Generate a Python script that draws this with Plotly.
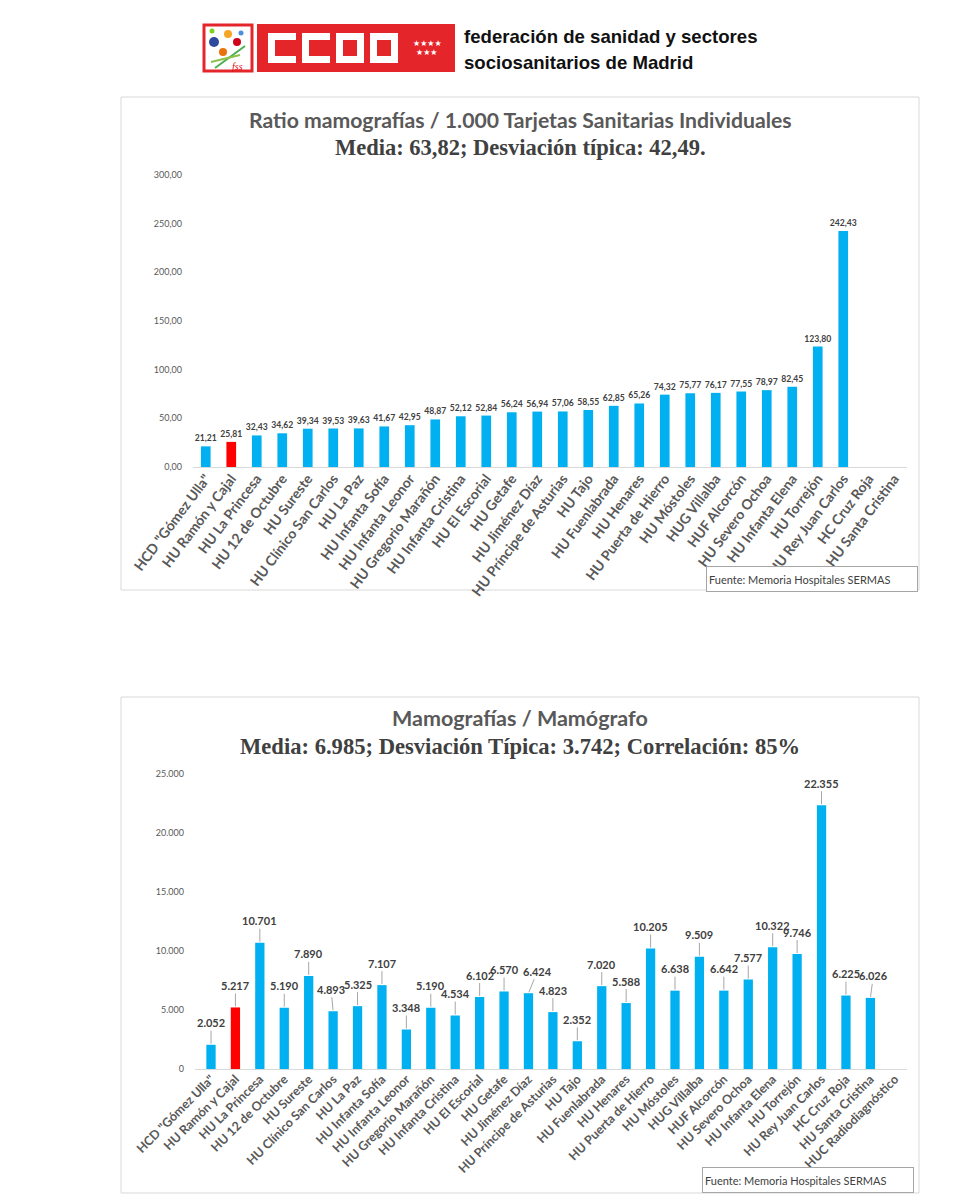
import plotly.graph_objects as go

# ---------------- DATA ----------------
hosp_top = ['HCD "Gómez Ulla"', 'HU Ramón y Cajal', 'HU La Princesa', 'HU 12 de Octubre', 'HU Sureste',
            'HU Clínico San Carlos', 'HU La Paz', 'HU Infanta Sofía', 'HU Infanta Leonor',
            'HU Gregorio Marañón', 'HU Infanta Cristina', 'HU El Escorial', 'HU Getafe',
            'HU Jiménez Díaz', 'HU Príncipe de Asturias', 'HU Tajo', 'HU Fuenlabrada', 'HU Henares',
            'HU Puerta de Hierro', 'HU Móstoles', 'HUG Villalba', 'HUF Alcorcón', 'HU Severo Ochoa',
            'HU Infanta Elena', 'HU Torrejón', 'HU Rey Juan Carlos', 'HC Cruz Roja', 'HU Santa Cristina']
ratio_tsi = [21.21, 25.81, 32.43, 34.62, 39.34, 39.53, 39.63, 41.67, 42.95, 48.87, 52.12, 52.84, 56.24,
             56.94, 57.06, 58.55, 62.85, 65.26, 74.32, 75.77, 76.17, 77.55, 78.97, 82.45, 123.80, 242.43,
             None, None]

hosp_bottom = hosp_top + ['HUC Radiodiagnóstico']
mamo_per_mamografo = [2052, 5217, 10701, 5190, 7890, 4893, 5325, 7107, 3348, 5190, 4534, 6102, 6570,
                      6424, 4823, 2352, 7020, 5588, 10205, 6638, 9509, 6642, 7577, 10322, 9746, 22355,
                      6225, 6026, None]

highlight = 'HU Ramón y Cajal'
top_ticks = [0, 50, 100, 150, 200, 250, 300]
bottom_ticks = [0, 5000, 10000, 15000, 20000, 25000]

title_top_1 = 'Ratio mamografías / 1.000 Tarjetas Sanitarias Individuales'
title_top_2 = 'Media: 63,82; Desviación típica: 42,49.'
title_bot_1 = 'Mamografías / Mamógrafo'
title_bot_2 = 'Media: 6.985; Desviación Típica: 3.742; Correlación: 85%'
source_text = 'Fuente: Memoria Hospitales SERMAS'

# ---------------- STYLE ----------------
W, H = 960, 1200
def X(px):
    return px / W
def Y(py):
    return 1 - py / H

BLUE = '#00B0F0'
RED = '#FF0000'
SANS = 'Lato, Open Sans, Arial, sans-serif'
SERIF = 'Liberation Serif, Times New Roman, serif'
GRAY = '#595959'
DARK = '#404040'

# callout label nudges (pixels) for crowded labels, as in the reference
label_dx = {'HU Jiménez Díaz': 9, 'HU Santa Cristina': 3, 'HU Clínico San Carlos': -2}

fig = go.Figure()

fig.add_trace(go.Bar(
    x=hosp_top, y=ratio_tsi, xaxis='x', yaxis='y',
    marker=dict(color=[RED if h == highlight else BLUE for h in hosp_top], line=dict(width=0)),
    texttemplate='%{y:.2f}', textposition='outside', cliponaxis=False, constraintext='none',
    textfont=dict(family=SANS, size=8.6, color=DARK, weight='bold'),
    showlegend=False, hoverinfo='x+y'))

fig.add_trace(go.Bar(
    x=hosp_bottom, y=mamo_per_mamografo, xaxis='x2', yaxis='y2',
    marker=dict(color=[RED if h == highlight else BLUE for h in hosp_bottom], line=dict(width=0)),
    showlegend=False, hoverinfo='x+y'))

annotations = []
for h, v in zip(hosp_bottom, mamo_per_mamografo):
    if v is None:
        continue
    annotations.append(dict(
        x=h, y=v, xref='x2', yref='y2', text=f'{v:,}'.replace(',', '.'),
        showarrow=True, arrowhead=0, arrowwidth=1, arrowcolor='#a6a6a6',
        ax=label_dx.get(h, 0), ay=-22, standoff=1,
        font=dict(family=SANS, size=11, color=DARK, weight='bold')))

def paper_text(x, y, text, font, xanchor='center'):
    return dict(x=x, y=y, xref='paper', yref='paper', xanchor=xanchor, yanchor='middle',
                text=text, showarrow=False, font=font)

# Titles
cx = 0.5 * (X(121) + X(919))
annotations += [
    paper_text(cx, Y(120), title_top_1, dict(family=SANS, size=21.2, color=GRAY, weight='bold')),
    paper_text(cx, Y(147), title_top_2, dict(family=SERIF, size=22.5, color=DARK, weight='bold')),
    paper_text(cx, Y(718), title_bot_1, dict(family=SANS, size=21.5, color=GRAY, weight='bold')),
    paper_text(cx, Y(746), title_bot_2, dict(family=SERIF, size=22.6, color=DARK, weight='bold')),
]

# Source boxes
for (x0, y0) in [(706, 566), (702, 1167)]:
    annotations.append(dict(
        x=X(x0), y=Y(y0), xref='paper', yref='paper', xanchor='left', yanchor='top',
        text=source_text, showarrow=False, align='left', width=206, height=20, borderpad=2,
        bgcolor='white', bordercolor='#a6a6a6', borderwidth=1,
        font=dict(family=SANS, size=11, color=DARK)))

# Header text
hdr_font = dict(family='Liberation Sans, Arial', size=18.6, color='#111111', weight='bold')
annotations += [
    paper_text(X(462), Y(36), 'federación de sanidad y sectores', hdr_font, xanchor='left'),
    paper_text(X(462), Y(63), 'sociosanitarios de Madrid', hdr_font, xanchor='left'),
    paper_text(X(427), Y(44), '★★★★', dict(family='DejaVu Sans', size=8, color='white')),
    paper_text(X(427), Y(52), '★★★', dict(family='DejaVu Sans', size=8, color='white')),
    paper_text(X(237), Y(66), '<i>fss</i>', dict(family='Liberation Serif', size=10, color='#E30613')),
]

shapes = []
def rect(x0, y0, x1, y1, fill=None, line=None, lw=1, layer='above'):
    shapes.append(dict(type='rect', xref='paper', yref='paper', x0=X(x0), x1=X(x1), y0=Y(y1), y1=Y(y0),
                       fillcolor=fill if fill else 'rgba(0,0,0,0)',
                       line=dict(color=line if line else 'rgba(0,0,0,0)', width=lw if line else 0),
                       layer=layer))
def circ(cx_, cy_, r, fill):
    shapes.append(dict(type='circle', xref='paper', yref='paper', x0=X(cx_ - r), x1=X(cx_ + r),
                       y0=Y(cy_ + r), y1=Y(cy_ - r), fillcolor=fill, line=dict(width=0), layer='above'))

# panel borders
rect(121, 97, 919, 590, line='#d9d9d9', layer='below')
rect(121, 697, 919, 1193, line='#d9d9d9', layer='below')

# logo: flower icon
RED_LOGO = '#E4262B'
rect(204, 25, 252, 71, fill='white', line=RED_LOGO, lw=3)
circ(214, 42, 5, '#2E4B9B')
circ(228, 34, 4, '#F5A623')
circ(237, 42, 4, '#D0021B')
circ(223, 52, 4, '#E8730C')
circ(241, 33, 2.5, '#4A90E2')
circ(212, 31, 2.5, '#7ED321')
shapes.append(dict(type='line', xref='paper', yref='paper', x0=X(215), y0=Y(68), x1=X(245), y1=Y(46),
                   line=dict(color='#4CAF50', width=2), layer='above'))
shapes.append(dict(type='line', xref='paper', yref='paper', x0=X(211), y0=Y(62), x1=X(240), y1=Y(55),
                   line=dict(color='#8BC34A', width=2), layer='above'))
# logo: CCOO box
rect(257, 24, 455, 72, fill=RED_LOGO)
for (lx, kind) in [(268, 'C'), (302, 'C'), (336, 'O'), (370, 'O')]:
    rect(lx, 33, lx + 28, 63, fill='white')
    if kind == 'C':
        rect(lx + 7, 40, lx + 29, 56, fill=RED_LOGO)
    else:
        rect(lx + 7, 40, lx + 21, 56, fill=RED_LOGO)

ytick_font = dict(family=SANS, size=9, color=GRAY)

common_x = dict(type='category', showline=True, linecolor='#d9d9d9', linewidth=1, ticks='',
                showgrid=False, fixedrange=True, automargin=False, ticklabelstandoff=-3)
common_y = dict(tickfont=ytick_font, showgrid=False, zeroline=False, showline=False, ticks='',
                ticklabelstandoff=10, fixedrange=True, automargin=False)

fig.update_layout(
    template='none',
    width=W, height=H, autosize=False,
    margin=dict(l=0, r=0, t=0, b=0, pad=0, autoexpand=False),
    paper_bgcolor='white', plot_bgcolor='white',
    separators=',.',
    bargap=0.62,
    xaxis=dict(domain=[X(193), X(907)], anchor='y', tickangle=-53,
               tickfont=dict(family=SANS, size=14, color=GRAY, weight='bold'), **common_x),
    yaxis=dict(domain=[Y(467), Y(175)], anchor='x', range=[0, 300], tickvals=top_ticks,
               tickformat='.2f', **common_y),
    xaxis2=dict(domain=[X(195), X(907)], anchor='y2', tickangle=-45,
                tickfont=dict(family=SANS, size=12.5, color=GRAY, weight='bold'), **common_x),
    yaxis2=dict(domain=[Y(1069), Y(774)], anchor='x2', range=[0, 25000], tickvals=bottom_ticks,
                tickformat=',.0f', **common_y),
    annotations=annotations,
    shapes=shapes,
)

fig.write_html('out.html', config={'displayModeBar': False},
               post_script="document.body.style.margin='0';")
